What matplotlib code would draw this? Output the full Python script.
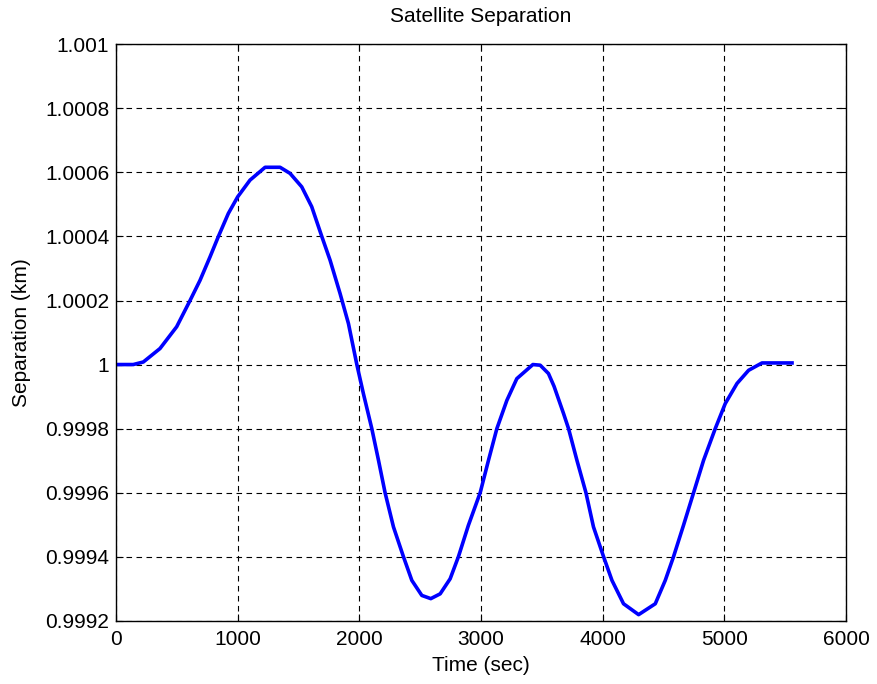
import matplotlib
matplotlib.use("Agg")
import matplotlib.pyplot as plt

plt.rcParams['font.family'] = ['Liberation Sans', 'DejaVu Sans']

# Time (sec) and separation (km) samples
time_sec = [0, 141, 224, 361, 498, 608, 690, 772, 841, 923, 1000, 1101, 1225,
            1348, 1430, 1526, 1608, 1691, 1759, 1841, 1910, 1979, 2033, 2102,
            2157, 2211, 2280, 2362, 2431, 2513, 2587, 2664, 2746, 2814, 2896,
            2993, 3061, 3130, 3212, 3294, 3426, 3486, 3554, 3600, 3678,
            3719, 3788, 3862, 3924, 4007, 4076, 4171, 4295, 4432, 4514, 4582,
            4664, 4747, 4829, 4925, 5007, 5104, 5199, 5309, 5556]
separation_km = [1.0, 1.0, 1.000008, 1.00005, 1.000118, 1.0002, 1.000263,
                 1.000336, 1.0004, 1.000472, 1.000524, 1.000576, 1.000616,
                 1.000616, 1.000597, 1.000555, 1.000493, 1.0004, 1.000326,
                 1.000222, 1.000128, 1.0, 0.999909, 0.9998, 0.999701, 0.9996,
                 0.999493, 0.9994, 0.999326, 0.999279, 0.999269, 0.999284,
                 0.999331, 0.9994, 0.999498, 0.9996, 0.999701, 0.9998,
                 0.999888, 0.999956, 1.0, 0.999998, 0.999972, 0.999932,
                 0.999847, 0.9998, 0.999701, 0.9996, 0.999493,
                 0.9994, 0.999326, 0.999253, 0.999219, 0.999253, 0.999326,
                 0.9994, 0.999498, 0.9996, 0.999701, 0.9998, 0.999878,
                 0.999941, 0.999982, 1.000005, 1.000005]

x_ticks = [0, 1000, 2000, 3000, 4000, 5000, 6000]
y_ticks = [0.9992, 0.9994, 0.9996, 0.9998, 1.0, 1.0002, 1.0004, 1.0006, 1.0008, 1.001]
y_tick_labels = ['0.9992', '0.9994', '0.9996', '0.9998', '1', '1.0002',
                 '1.0004', '1.0006', '1.0008', '1.001']

fig = plt.figure(figsize=(8.78, 6.84), dpi=100)
ax = fig.add_axes([0.1322, 0.0925, 0.8314, 0.8427])

ax.plot(time_sec, separation_km, color=(0, 0, 1), linewidth=2.6)

ax.set_xlim(0, 6000)
ax.set_ylim(0.9992, 1.001)
ax.set_xticks(x_ticks)
ax.set_xticklabels([str(v) for v in x_ticks])
ax.set_yticks(y_ticks)
ax.set_yticklabels(y_tick_labels)

ax.grid(True, color='black', linestyle=(0, (5, 4)), linewidth=0.8)
ax.tick_params(direction='in', top=True, right=True, length=5, width=0.8,
               labelsize=15)
ax.tick_params(axis='y', pad=5)
ax.tick_params(axis='x', pad=7)
for s in ax.spines.values():
    s.set_linewidth(1.0)

ax.set_title('Satellite Separation', fontsize=15, pad=16)
ax.set_xlabel('Time (sec)', fontsize=15, labelpad=5)
ax.set_ylabel('Separation (km)', fontsize=15, labelpad=10)

fig.savefig('out.png', dpi=100)
